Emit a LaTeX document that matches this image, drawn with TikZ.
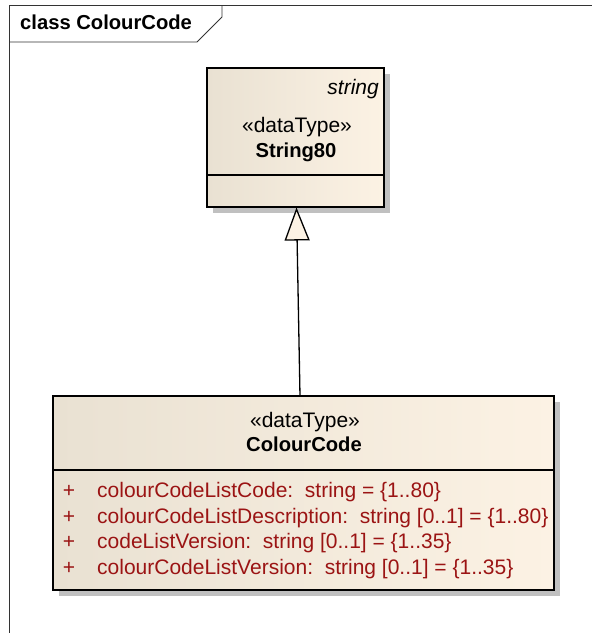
\documentclass[tikz,border=0pt]{standalone}
\usepackage{fontspec}
\setmainfont{Liberation Sans}
\usetikzlibrary{arrows.meta}
\definecolor{boxleft}{RGB}{233,225,210}
\definecolor{boxright}{RGB}{252,242,228}
\definecolor{attrred}{RGB}{155,20,20}
\definecolor{shadowgrey}{RGB}{192,192,192}
\definecolor{tipfill}{RGB}{252,242,228}
\tikzset{
  classbox/.style={draw=black, line width=1.3pt, left color=boxleft, right color=boxright, inner sep=0pt},
  shadowbox/.style={fill=shadowgrey, draw=none},
  umltext/.style={font=\fontsize{21}{25}\selectfont, inner sep=0pt},
  umlbold/.style={font=\bfseries\fontsize{20.2}{24}\selectfont, inner sep=0pt},
  attr/.style={font=\fontsize{21}{25}\selectfont, text=attrred, inner sep=0pt, anchor=base west},
  plus/.style={font=\fontsize{21}{25}\selectfont, text=attrred, inner sep=0pt, anchor=base},
  framel/.style={draw=black!80, line width=0.9pt},
  genline/.style={draw=black, line width=1.3pt, -{Triangle[length=33pt, width=25pt, fill=tipfill]}}
}
\begin{document}
\begin{tikzpicture}[x=1pt,y=-1pt]
\useasboundingbox (0,0) rectangle (592,633);
\fill[white] (0,0) rectangle (592,633);
% frame
\draw[framel] (9,633) -- (9,5) -- (592,5);
\draw[framel] (9,42) -- (197,42) -- (222,17) -- (222,5);
\node[umlbold, anchor=base west] (title) at (20,29.5) {class ColourCode};
% String80
\fill[shadowbox] (213,74) rectangle (390,213);
\node[classbox, minimum width=177pt, minimum height=139pt] (s80) at (295.5,137.5) {};
\draw[line width=1.3pt] (s80.west |- 0,175) -- (s80.east |- 0,175);
\node[umltext, anchor=base east, font=\itshape\fontsize{21}{25}\selectfont] (s80tag) at (379,94.5) {string};
\node[umltext, anchor=base] (s80st) at (297,132.5) {«dataType»};
\node[umlbold, anchor=base] (s80name) at (296,157.5) {String80};
% ColourCode
\fill[shadowbox] (59,402) rectangle (560,596);
\node[classbox, minimum width=501pt, minimum height=194pt] (cc) at (303.5,493) {};
\draw[line width=1.3pt] (cc.west |- 0,470) -- (cc.east |- 0,470);
\node[umltext, anchor=base] (ccst) at (305,427.5) {«dataType»};
\node[umlbold, anchor=base] (ccname) at (304,451.5) {ColourCode};
\node[plus] (p1) at (69,497.5) {+};
\node[attr] (a1) at (97,497.5) {colourCodeListCode:\ \ string = \{1..80\}};
\node[plus] (p2) at (69,523) {+};
\node[attr] (a2) at (97,523) {colourCodeListDescription:\ \ string [0..1] = \{1..80\}};
\node[plus] (p3) at (69,548.5) {+};
\node[attr] (a3) at (97,548.5) {codeListVersion:\ \ string [0..1] = \{1..35\}};
\node[plus] (p4) at (69,574) {+};
\node[attr] (a4) at (97,574) {colourCodeListVersion:\ \ string [0..1] = \{1..35\}};
% generalization
\coordinate (genstart) at (300,396);
\coordinate (genend) at (296.5,207.5);
\draw[genline] (genstart) -- (genend);
\end{tikzpicture}
\end{document}
